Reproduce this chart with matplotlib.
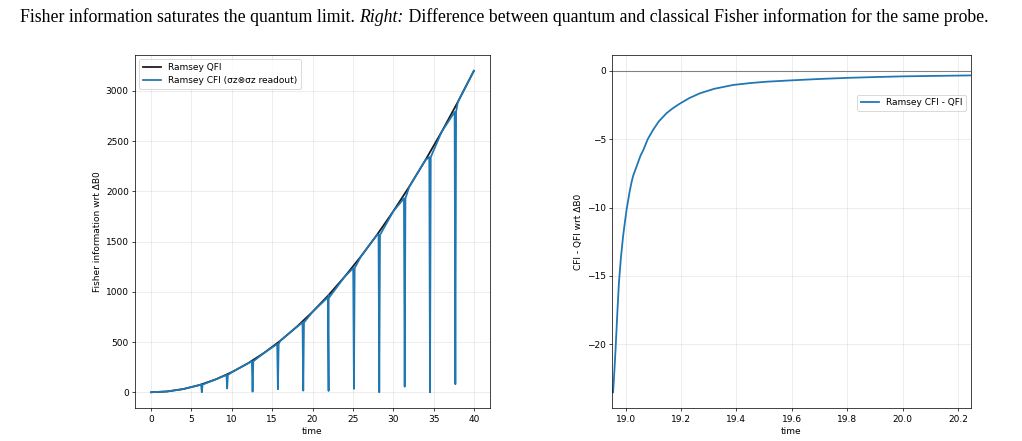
import numpy as np
import matplotlib.pyplot as plt

# left panel: QFI every 2 time units
qfi_t = [0, 2, 4, 6, 8, 10, 12, 14, 16, 18, 20, 22, 24, 26, 28, 30, 32, 34, 36, 38, 40]
qfi_vals = [0, 8, 32, 72, 128, 200, 288, 392, 512, 648, 800, 968, 1152, 1352,
            1568, 1800, 2048, 2312, 2592, 2888, 3200]

# CFI dips (sigma_z x sigma_z readout): time, value at dip edge, value at dip bottom
dip_t = [6.28, 9.42, 12.57, 15.71, 18.85, 21.99, 25.13, 28.27, 31.42, 34.56, 37.70]
dip_top = [76, 172, 308, 480, 694, 945, 1235, 1565, 1930, 2340, 2790]
dip_bottom = [0, 38, 6, 30, 16, 13, 33, 0, 56, 0, 80]

# right panel: CFI - QFI just after the dip at t ~ 18.85
diff_t = [18.955, 18.960, 18.964, 18.970, 18.976, 18.983, 18.991, 18.998, 19.004,
          19.010, 19.015, 19.021, 19.027, 19.036, 19.045, 19.054, 19.064, 19.08,
          19.10, 19.12, 19.148, 19.17, 19.196, 19.23, 19.268, 19.32, 19.388,
          19.45, 19.509, 19.60, 19.70, 19.80, 19.90, 20.00, 20.10, 20.246]
diff_vals = [-23.5, -21.8, -20.3, -17.8, -15.5, -13.7, -12.1, -11.0, -10.1,
             -9.4, -8.8, -8.2, -7.7, -7.2, -6.7, -6.2, -5.8, -5.0,
             -4.3, -3.7, -3.1, -2.75, -2.4, -2.0, -1.65, -1.32, -1.04,
             -0.90, -0.80, -0.70, -0.60, -0.52, -0.46, -0.41, -0.38, -0.34]

caption = ['Fisher information saturates the quantum limit. ', 'Right:',
           ' Difference between quantum and classical Fisher information for the same probe.']

blue = '#1f77b4'

# build the CFI trace: QFI points plus the dip points
cfi_pts = list(zip(qfi_t, qfi_vals))
for t0, top, bot in zip(dip_t, dip_top, dip_bottom):
    cfi_pts += [(t0 - 0.09, top), (t0, bot), (t0 + 0.09, top)]
cfi_pts.sort()
cfi_t = [p[0] for p in cfi_pts]
cfi_vals = [p[1] for p in cfi_pts]

# the figure was drawn big and shrunk into the page, so render at low dpi
dpi = 64.5
fig = plt.figure(figsize=(1022 / dpi, 441 / dpi), dpi=dpi)

# caption with italic "Right:"
cap_px = 17.7
cap_size = cap_px * 72 / dpi
renderer = fig.canvas.get_renderer()
x = 20
for i, part in enumerate(caption):
    txt = fig.text(x / 1022, 0.961, part, family='Liberation Serif', fontsize=cap_size,
                   style='italic' if i == 1 else 'normal', va='center')
    x += txt.get_window_extent(renderer).width

ax1 = fig.add_axes([0.1321, 0.0741, 0.3474, 0.8019])
ax1.plot(qfi_t, qfi_vals, color='#1a1a1a', lw=2, label='Ramsey QFI')
ax1.plot(cfi_t, cfi_vals, color=blue, lw=2, label='Ramsey CFI (σz⊗σz readout)')
ax1.set_xlabel('time')
ax1.set_ylabel('Fisher information wrt ΔB0')
ax1.set_xticks(range(0, 41, 5))
ax1.grid(alpha=0.3)
ax1.legend(loc='upper left')

ax2 = fig.add_axes([0.5991, 0.0741, 0.3507, 0.8019])
ax2.axhline(0, color='gray', lw=1.2)
ax2.plot(diff_t, diff_vals, color=blue, lw=2, label='Ramsey CFI - QFI')
ax2.set_xlim(18.952, 20.246)
ax2.set_xlabel('time')
ax2.set_ylabel('CFI - QFI wrt ΔB0')
ax2.grid(alpha=0.3)
ax2.legend(loc='upper right', bbox_to_anchor=(1, 0.90))

fig.savefig('out.png', dpi=dpi)
